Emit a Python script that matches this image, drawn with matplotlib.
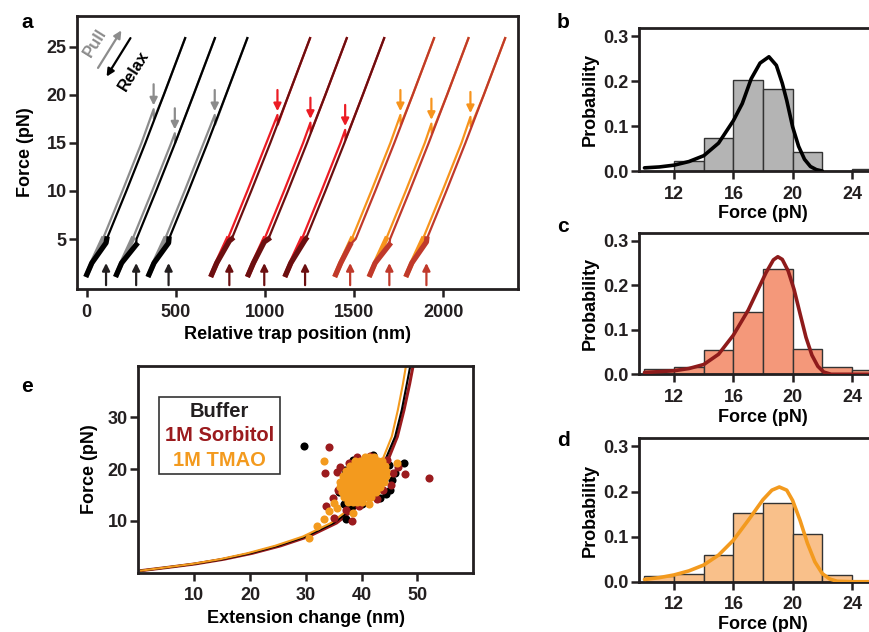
import numpy as np
import matplotlib.pyplot as plt
from matplotlib.patches import Rectangle

plt.rcParams['font.family'] = ['Liberation Sans', 'DejaVu Sans']
plt.rcParams['font.weight'] = 'bold'
plt.rcParams['axes.labelweight'] = 'bold'

INK = '#231f20'

# ---- panel a: pulling traces (folded branch shape, shared by all pairs) ----
base_force = [1.3, 2.5, 5.0, 10.0, 15.0, 20.0, 25.9]
base_dx = [0, 28, 90, 200, 307, 410, 530]
unfold_gap = 22

pair_start = [0, 167, 349, 701, 907, 1117, 1397, 1590, 1796]
rupture_pos = [375, 494, 718, 1070, 1255, 1450, 1760, 1934, 2153]
rupture_force = [18.5, 16.0, 17.9, 17.9, 17.1, 16.35, 17.9, 17.0, 17.7]
refold_pos = [108, 277, 459, 800, 996, 1225, 1478, 1698, 1906]
refold_force = [4.6, 4.4, 4.6, 4.8, 4.7, 4.9, 4.4, 4.4, 4.7]
pair_condition = [0, 0, 0, 1, 1, 1, 2, 2, 2]

pull_colors = ['#8c8c8c', '#ec1c24', '#f7941d']
relax_colors = ['#000000', '#6b0f10', '#c0392b']
up_arrow_colors = ['#231f20', '#6b0f10', '#c0392b']

# ---- panels b-d: rupture force histograms ----
bin_left = [10, 12, 14, 16, 18, 20, 22, 24]
prob_buffer = [0.0, 0.022, 0.073, 0.203, 0.183, 0.042, 0.0, 0.004]
prob_sorbitol = [0.011, 0.016, 0.054, 0.141, 0.237, 0.056, 0.017, 0.009]
prob_tmao = [0.013, 0.018, 0.060, 0.153, 0.175, 0.105, 0.014, 0.0]

fit_b_x = [10, 11, 12, 13, 14, 15, 16, 16.6, 17.2, 17.8, 18.4, 18.9, 19.3, 19.6, 20.0, 20.4, 20.8, 21.2, 21.6, 22.0]
fit_b_y = [0.007, 0.009, 0.013, 0.021, 0.034, 0.062, 0.112, 0.150, 0.205, 0.240, 0.254, 0.235, 0.195, 0.157, 0.098, 0.055, 0.026, 0.010, 0.003, 0.0]
fit_c_x = [10, 11, 12, 13, 14, 15, 16, 17, 17.6, 18.2, 18.7, 19.0, 19.3, 19.7, 20.1, 20.5, 20.9, 21.3, 21.7, 22.1, 22.6, 24, 26]
fit_c_y = [0.004, 0.006, 0.008, 0.013, 0.022, 0.045, 0.088, 0.144, 0.186, 0.228, 0.257, 0.264, 0.258, 0.232, 0.190, 0.136, 0.083, 0.043, 0.018, 0.005, 0.0, 0.0, 0.0]
fit_d_x = [10, 11, 12, 13, 14, 15, 16, 17, 18, 18.6, 19.1, 19.6, 20.0, 20.5, 21.0, 21.5, 22.0, 22.5, 23.0, 24, 26]
fit_d_y = [0.005, 0.009, 0.015, 0.024, 0.037, 0.059, 0.092, 0.136, 0.182, 0.203, 0.210, 0.203, 0.180, 0.136, 0.085, 0.044, 0.018, 0.006, 0.001, 0.0, 0.0]

# ---- panel e: force vs extension change ----
wlc_force = [0.4, 1.0, 1.7, 2.6, 3.75, 5.2, 7.0, 9.6, 12.1, 14.6, 17.3, 21.2, 26.3, 31.5, 36.5, 41.0]
wlc_buffer = [0.5, 5.0, 10.0, 15.0, 20.0, 25.0, 30.0, 35.0, 38.0, 40.0, 42.0, 44.0, 46.0, 47.2, 48.1, 48.9]
wlc_sorbitol = [0.5, 5.1, 10.2, 15.3, 20.4, 25.5, 30.5, 35.5, 38.5, 40.5, 42.5, 44.5, 46.4, 47.6, 48.6, 49.4]
wlc_tmao = [0.5, 4.8, 9.7, 14.6, 19.5, 24.5, 29.5, 34.5, 37.5, 39.5, 41.5, 43.5, 45.4, 46.5, 47.4, 48.1]

buffer_ext = [29.6, 47.5, 37.2, 36.5, 37.5, 38.3, 36.8, 44.3, 45.0, 46.0, 44.9, 42.0, 37.0, 40.0, 43.2, 36.0, 45.5, 38.5]
buffer_force = [24.5, 21.2, 10.4, 17.6, 12.6, 12.9, 13.3, 15.3, 16.0, 19.2, 20.8, 22.7, 19.8, 13.2, 14.5, 15.5, 18.0, 21.8]
sorb_ext = [34.2, 33.5, 52.0, 47.8, 38.3, 35.1, 33.6, 34.8, 35.6, 37.8, 41.5, 43.8, 45.7, 46.6, 44.6, 39.2, 36.2, 35.8, 37.2, 42.8, 45.3, 39.5]
sorb_force = [24.2, 19.2, 18.3, 19.0, 9.9, 10.5, 12.8, 14.4, 19.5, 21.2, 22.6, 16.0, 19.3, 20.4, 21.8, 22.3, 20.5, 16.0, 12.2, 14.2, 17.0, 12.8]
tmao_row_force = [22.4, 21.5, 20.6, 19.6, 18.6, 17.6, 16.6, 15.6, 14.6, 13.6]
tmao_row_ext = [
    [40.6, 41.4, 42.2],
    [38.9, 39.7, 40.5, 41.3, 42.1, 42.9, 43.6],
    [37.9, 38.7, 39.5, 40.3, 41.1, 41.9, 42.7, 43.5, 44.2],
    [37.2, 38.0, 38.8, 39.6, 40.4, 41.2, 42.0, 42.8, 43.6, 44.3],
    [36.6, 37.4, 38.2, 39.0, 39.8, 40.6, 41.4, 42.2, 43.0, 43.8, 44.4],
    [36.2, 37.0, 37.8, 38.6, 39.4, 40.2, 41.0, 41.8, 42.6, 43.4, 44.0],
    [36.1, 36.9, 37.7, 38.5, 39.3, 40.1, 40.9, 41.7, 42.5, 43.2],
    [36.4, 37.2, 38.0, 38.8, 39.6, 40.4, 41.2, 42.0, 42.6],
    [36.9, 37.7, 38.5, 39.3, 40.1, 40.9, 41.6],
    [37.6, 38.4, 39.2, 40.0],
]
tmao_extra_ext = [41.4, 30.5, 32.0, 33.3, 34.1, 35.0, 38.5, 33.3, 46.3, 35.5]
tmao_extra_force = [13.3, 6.8, 9.0, 10.3, 11.9, 13.4, 11.5, 21.6, 21.2, 12.5]

C_SORB = '#9b1b1e'
C_TMAO = '#f39a1e'


def style(ax):
    for s in ax.spines.values():
        s.set_linewidth(2.0)
        s.set_color(INK)
    ax.tick_params(direction='out', length=5.5, width=1.8, labelsize=13,
                   pad=2, color=INK, labelcolor=INK)
    ax.tick_params(axis='x', pad=5)


W, H = 869, 632
fig = plt.figure(figsize=(W / 100, H / 100), dpi=100)


def axes_px(left, top, right, bottom):
    return fig.add_axes([left / W, 1 - bottom / H, (right - left) / W, (bottom - top) / H])


def arrow(ax, tip, tail, col):
    ax.annotate('', xy=tip, xytext=tail,
                arrowprops=dict(arrowstyle='-|>', color=col, lw=1.6,
                                mutation_scale=11, shrinkA=0, shrinkB=0))


# ================= panel a =================
ax = axes_px(77, 16, 518, 289)
bf = np.array(base_force)
bd = np.array(base_dx)
for i in range(len(pair_start)):
    c = pair_condition[i]
    x0 = pair_start[i]
    fr, xr = rupture_force[i], rupture_pos[i]
    ff, xf = refold_force[i], refold_pos[i]
    low = bf < fr
    pull_x = np.concatenate([x0 + bd[low], [xr, xr + 2], x0 + unfold_gap + bd[~low]])
    pull_f = np.concatenate([bf[low], [fr, fr - 1.0], bf[~low]])
    hi = bf > ff
    relax_x = np.concatenate([(x0 + unfold_gap + bd[hi])[::-1], [xf], (x0 + bd[~hi])[::-1]])
    relax_f = np.concatenate([bf[hi][::-1], [ff], bf[~hi][::-1]])
    ax.plot(pull_x, pull_f, color=pull_colors[c], lw=1.6, zorder=2)
    m = pull_f <= 5.5
    ax.plot(pull_x[m], pull_f[m], color=pull_colors[c], lw=3.5, zorder=2)
    ax.plot(relax_x, relax_f, color=relax_colors[c], lw=1.6, zorder=3)
    m = relax_f <= ff + 0.5
    ax.plot(relax_x[m], relax_f[m], color=relax_colors[c], lw=3.8, zorder=3)
    arrow(ax, (xr, fr + 0.4), (xr, fr + 2.6), pull_colors[c])
    arrow(ax, (xf, 2.5), (xf, 0.2), up_arrow_colors[c])

arrow(ax, (194, 26.7), (63, 22.8), '#8c8c8c')
arrow(ax, (111, 21.9), (245, 25.9), '#000000')
ax.text(47, 25.4, 'Pull', color='#8c8c8c', fontsize=12, rotation=58,
        ha='center', va='center')
ax.text(263, 22.5, 'Relax', color='#000000', fontsize=12, rotation=58,
        ha='center', va='center')

ax.set_xlim(-55, 2420)
ax.set_ylim(-0.2, 28.2)
ax.set_xticks([0, 500, 1000, 1500, 2000])
ax.set_yticks([5, 10, 15, 20, 25])
ax.set_xlabel('Relative trap position (nm)', fontsize=13, labelpad=4)
ax.set_ylabel('Force (pN)', fontsize=13, labelpad=9)
style(ax)

# ================= panels b-d =================
hist_sets = [
    (28, 171, prob_buffer, '#b4b4b4', fit_b_x, fit_b_y, '#000000'),
    (232.7, 374.3, prob_sorbitol, '#f4987a', fit_c_x, fit_c_y, '#8e1b1b'),
    (438.3, 581.7, prob_tmao, '#f9c08a', fit_d_x, fit_d_y, C_TMAO),
]
for top, bottom, probs, fill, fx, fy, lc in hist_sets:
    ax = axes_px(639, top, 886, bottom)
    ax.bar(bin_left, probs, width=2, align='edge', color=fill,
           edgecolor='#333333', linewidth=1.0, zorder=2)
    ax.plot(fx, fy, color=lc, lw=2.6, zorder=3, solid_capstyle='round')
    ax.set_xlim(9.63, 26.3)
    ax.set_ylim(0, 0.318)
    ax.set_xticks([12, 16, 20, 24])
    ax.set_yticks([0.0, 0.1, 0.2, 0.3])
    ax.set_yticklabels(['0.0', '0.1', '0.2', '0.3'])
    ax.set_xlabel('Force (pN)', fontsize=13, labelpad=2)
    ax.set_ylabel('Probability', fontsize=13, labelpad=3)
    ax.spines['right'].set_visible(False)
    style(ax)

# ================= panel e =================
ax = axes_px(138.3, 365.7, 473.3, 572.7)
ax.plot(wlc_sorbitol, wlc_force, color=C_SORB, lw=2.2, zorder=2)
ax.plot(wlc_buffer, wlc_force, color='#000000', lw=1.5, zorder=2)
ax.plot(wlc_tmao, wlc_force, color=C_TMAO, lw=1.5, zorder=2)
ax.scatter(buffer_ext, buffer_force, s=34, color='#000000', lw=0, zorder=3)
ax.scatter(sorb_ext, sorb_force, s=34, color=C_SORB, lw=0, zorder=4)
tmao_ext = [v for row in tmao_row_ext for v in row] + tmao_extra_ext
tmao_force = [f for f, row in zip(tmao_row_force, tmao_row_ext) for _ in row] + tmao_extra_force
ax.scatter(tmao_ext, tmao_force, s=34, color=C_TMAO, lw=0, zorder=5)

ax.add_patch(Rectangle((0.061, 0.477), 0.362, 0.37, transform=ax.transAxes,
                       fill=False, edgecolor='#333333', lw=1.2, zorder=6))
for txt, col, yy in [('Buffer', '#231f20', 0.781), ('1M Sorbitol', C_SORB, 0.665),
                     ('1M TMAO', C_TMAO, 0.544)]:
    ax.text(0.242, yy, txt, color=col, fontsize=14.5, ha='center', va='center',
            transform=ax.transAxes, zorder=7)

ax.set_xlim(0, 60)
ax.set_ylim(0, 40)
ax.set_xticks([10, 20, 30, 40, 50])
ax.set_yticks([10, 20, 30])
ax.set_xlabel('Extension change (nm)', fontsize=13, labelpad=4)
ax.set_ylabel('Force (pN)', fontsize=13, labelpad=7)
style(ax)

# panel letters
for letter, px, py in [('a', 27, 22), ('b', 563, 23), ('c', 563, 226),
                       ('d', 563, 440), ('e', 27, 387)]:
    fig.text(px / W, 1 - py / H, letter, fontsize=15, ha='center', va='center')

fig.savefig('out.png', dpi=100)
